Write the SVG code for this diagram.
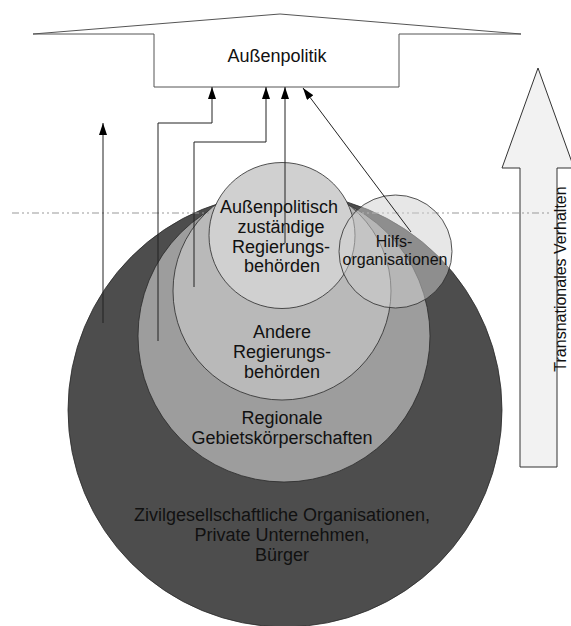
<svg xmlns="http://www.w3.org/2000/svg" width="571" height="626" viewBox="0 0 571 626">
<style>
.c{stroke:#2a2a2a;stroke-width:0.8}
.t{font-family:"Liberation Sans",Arial,sans-serif;font-size:18px;fill:#111;text-anchor:middle}
.con{fill:none;stroke:#222;stroke-width:1}
</style>
<defs>
<marker id="ah" viewBox="0 0 12 8" refX="12" refY="4" markerWidth="12" markerHeight="8" markerUnits="userSpaceOnUse" orient="auto">
<path d="M0,0 L12,4 L0,8 Z" fill="#000"/>
</marker>
</defs>
<rect width="571" height="626" fill="#fff"/>
<g id="aussenpolitik">
<path d="M33,34 L280,14 L521,34 L399,34 L399,87 L154,87 L154,34 Z" fill="#fff" stroke="#555" stroke-width="1"/>
<text class="t" x="277" y="62">Außenpolitik</text>
</g>
<g id="transnational">
<path d="M520,467 L520,168 L502,168 L538,68 L574,168 L557,168 L557,467 Z" fill="#f2f2f2" stroke="#333" stroke-width="1"/>
<text class="t" style="font-size:16px" transform="translate(566,279) rotate(-90)">Transnationales Verhalten</text>
</g>
<g id="zivil">
<circle class="c" cx="285" cy="410" r="217" fill="#4d4d4d"/>
<text class="t" x="282" y="521">Zivilgesellschaftliche Organisationen,</text>
<text class="t" x="282" y="541">Private Unternehmen,</text>
<text class="t" x="282" y="561">Bürger</text>
</g>
<g id="regional">
<circle class="c" cx="284" cy="336" r="146" fill="#9d9d9d"/>
<text class="t" x="282" y="424">Regionale</text>
<text class="t" x="282" y="444">Gebietskörperschaften</text>
</g>
<g id="andere">
<circle class="c" cx="282" cy="291" r="109" fill="#b9b9b9"/>
<text class="t" x="282" y="338">Andere</text>
<text class="t" x="282" y="358">Regierungs-</text>
<text class="t" x="282" y="378">behörden</text>
</g>
<line x1="12" y1="213" x2="552" y2="213" stroke="#999" stroke-width="1" stroke-dasharray="7 3 2 3 2 3"/>
<g id="zustaendig">
<circle class="c" cx="282" cy="235.5" r="73" fill="#d0d0d0"/>
<text class="t" x="279" y="213">Außenpolitisch</text>
<text class="t" x="281" y="233">zuständige</text>
<text class="t" x="281" y="253">Regierungs-</text>
<text class="t" x="282" y="272">behörden</text>
</g>
<g id="hilfs">
<circle class="c" cx="395.5" cy="251.5" r="56.5" fill="#cfcfcf" fill-opacity="0.5"/>
<text class="t" style="font-size:16px" x="394" y="247">Hilfs-</text>
<text class="t" style="font-size:16px" x="395" y="265">organisationen</text>
</g>
<g id="connectors">
<path class="con" d="M103,323 L103,123" marker-end="url(#ah)"/>
<path class="con" d="M158,341 L158,123 L212,123 L212,87" marker-end="url(#ah)"/>
<path class="con" d="M194,287 L194,142 L266,142 L266,87" marker-end="url(#ah)"/>
<path class="con" d="M285,243 L285,87" marker-end="url(#ah)"/>
<path class="con" d="M411,232 L303,88" marker-end="url(#ah)"/>
</g>
</svg>
